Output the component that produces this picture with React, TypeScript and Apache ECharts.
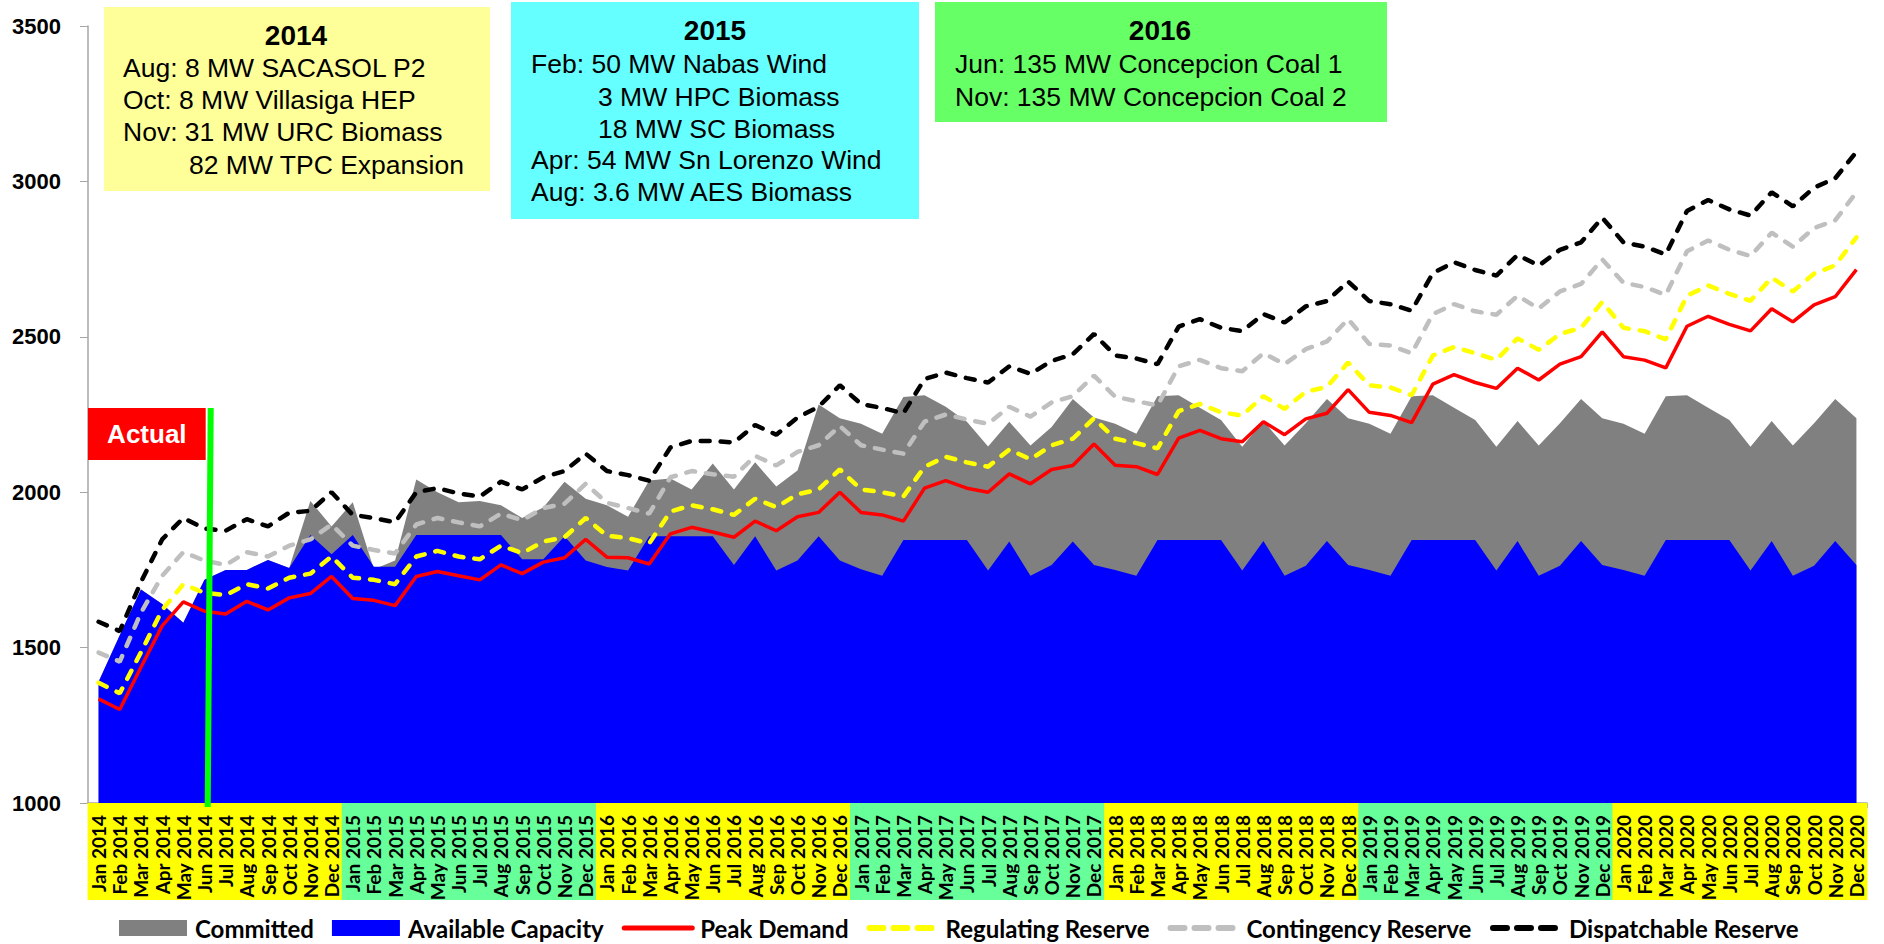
import React, { useEffect, useRef } from "react";
import * as echarts from "echarts";

const monthNames = ["Jan", "Feb", "Mar", "Apr", "May", "Jun", "Jul", "Aug", "Sep", "Oct", "Nov", "Dec"];
const years = [2014, 2015, 2016, 2017, 2018, 2019, 2020];
const categories = years.flatMap((y) => monthNames.map((m) => `${m} ${y}`));

const yearBandColors: Record<string, string> = {
  "2014": "#FFFF00",
  "2015": "#66FF99",
  "2016": "#FFFF00",
  "2017": "#66FF99",
  "2018": "#FFFF00",
  "2019": "#66FF99",
  "2020": "#FFFF00",
};

const availableCapacity = [
  1390, 1540, 1687, 1640, 1580, 1718, 1750, 1750, 1782, 1756, 1862, 1800,
  1862, 1760, 1760, 1862, 1862, 1862, 1862, 1862, 1784, 1784, 1858, 1780,
  1759, 1748, 1858, 1858, 1858, 1858, 1766, 1858, 1748, 1780, 1858, 1780,
  1752, 1731, 1846, 1846, 1846, 1846, 1748, 1841, 1731, 1766, 1841, 1766,
  1750, 1731, 1846, 1846, 1846, 1846, 1748, 1843, 1731, 1763, 1843, 1766,
  1750, 1731, 1846, 1846, 1846, 1846, 1748, 1843, 1731, 1763, 1843, 1766,
  1750, 1731, 1846, 1846, 1846, 1846, 1748, 1843, 1731, 1763, 1843, 1766,
];

const committedTotal = [
  1390, 1540, 1687, 1640, 1580, 1718, 1750, 1750, 1782, 1756, 1972, 1890,
  1968, 1752, 1780, 2041, 2000, 1968, 1972, 1958, 1917, 1951, 2034, 1979,
  1958, 1921, 2038, 2044, 2009, 2092, 2009, 2096, 2018, 2070, 2282, 2238,
  2220, 2188, 2306, 2312, 2275, 2227, 2147, 2227, 2150, 2210, 2300, 2240,
  2220, 2188, 2309, 2312, 2272, 2232, 2146, 2229, 2150, 2222, 2300, 2238,
  2220, 2188, 2309, 2312, 2272, 2232, 2146, 2229, 2150, 2222, 2300, 2238,
  2220, 2188, 2309, 2312, 2272, 2232, 2146, 2229, 2150, 2222, 2300, 2238,
];

const peakDemand = [
  1335, 1301, 1437, 1570, 1647, 1617, 1608, 1649, 1621, 1660, 1674, 1729,
  1658, 1652, 1635, 1729, 1745, 1731, 1718, 1766, 1738, 1775, 1789, 1848,
  1791, 1789, 1769, 1866, 1887, 1872, 1855, 1907, 1876, 1921, 1935, 2000,
  1935, 1927, 1907, 2013, 2037, 2013, 2000, 2059, 2027, 2073, 2086, 2155,
  2087, 2082, 2057, 2174, 2199, 2172, 2162, 2227, 2185, 2236, 2254, 2330,
  2257, 2247, 2224, 2348, 2378, 2353, 2334, 2399, 2361, 2412, 2436, 2516,
  2436, 2425, 2400, 2534, 2566, 2540, 2519, 2590, 2548, 2603, 2629, 2716,
];

const regulatingReserve = [
  1387, 1353, 1485, 1621, 1704, 1676, 1669, 1704, 1690, 1725, 1738, 1793,
  1725, 1718, 1704, 1793, 1811, 1793, 1784, 1828, 1804, 1841, 1855, 1917,
  1860, 1852, 1835, 1938, 1958, 1945, 1927, 1979, 1952, 1993, 2009, 2073,
  2009, 2000, 1986, 2082, 2114, 2096, 2082, 2137, 2106, 2151, 2172, 2238,
  2172, 2158, 2141, 2261, 2284, 2257, 2247, 2309, 2268, 2323, 2339, 2417,
  2344, 2337, 2312, 2440, 2467, 2447, 2426, 2495, 2458, 2509, 2529, 2612,
  2529, 2518, 2492, 2632, 2665, 2638, 2616, 2690, 2646, 2703, 2730, 2820,
];

const contingencyReserve = [
  1484, 1455, 1612, 1731, 1807, 1780, 1766, 1807, 1793, 1828, 1848, 1896,
  1828, 1814, 1803, 1896, 1917, 1903, 1890, 1931, 1910, 1949, 1963, 2027,
  1966, 1949, 1931, 2048, 2068, 2058, 2050, 2117, 2086, 2130, 2151, 2213,
  2151, 2137, 2124, 2227, 2250, 2234, 2220, 2275, 2243, 2289, 2309, 2375,
  2307, 2293, 2279, 2405, 2426, 2399, 2389, 2447, 2412, 2460, 2485, 2557,
  2477, 2472, 2447, 2573, 2605, 2582, 2571, 2632, 2591, 2646, 2670, 2749,
  2674, 2660, 2635, 2775, 2810, 2780, 2760, 2835, 2790, 2850, 2875, 2965,
];

const dispatchableReserve = [
  1583, 1553, 1711, 1848, 1917, 1883, 1876, 1913, 1890, 1934, 1940, 2000,
  1927, 1917, 1903, 2000, 2013, 1996, 1986, 2034, 2009, 2048, 2068, 2124,
  2068, 2055, 2037, 2144, 2165, 2165, 2160, 2216, 2185, 2240, 2275, 2344,
  2284, 2271, 2254, 2364, 2385, 2367, 2353, 2405, 2381, 2422, 2444, 2509,
  2440, 2430, 2412, 2533, 2557, 2529, 2518, 2573, 2546, 2598, 2615, 2678,
  2615, 2605, 2584, 2705, 2740, 2715, 2697, 2763, 2729, 2780, 2804, 2883,
  2804, 2790, 2765, 2905, 2940, 2910, 2890, 2965, 2920, 2980, 3010, 3095,
];

const yMin = 1000;
const yMax = 3500;
const yStep = 500;

const boxFont = "'Liberation Sans', Arial, sans-serif";
const labelFont = "Lato, 'Liberation Sans', sans-serif";

const annotationBoxes = [
  {
    x: 104, y: 7, w: 386, h: 184, fill: "#FFFF99",
    title: "2014", titleX: 296, titleY: 35,
    lines: [
      { text: "Aug: 8 MW SACASOL P2", x: 123, y: 68 },
      { text: "Oct: 8 MW Villasiga HEP", x: 123, y: 100 },
      { text: "Nov: 31 MW URC Biomass", x: 123, y: 132 },
      { text: "82 MW TPC Expansion", x: 189, y: 165 },
    ],
  },
  {
    x: 511, y: 2, w: 408, h: 217, fill: "#66FFFF",
    title: "2015", titleX: 715, titleY: 30,
    lines: [
      { text: "Feb: 50 MW Nabas Wind", x: 531, y: 64 },
      { text: "3 MW HPC Biomass", x: 598, y: 97 },
      { text: "18 MW SC Biomass", x: 598, y: 129 },
      { text: "Apr: 54 MW Sn Lorenzo Wind", x: 531, y: 160 },
      { text: "Aug: 3.6 MW AES Biomass", x: 531, y: 192 },
    ],
  },
  {
    x: 935, y: 2, w: 452, h: 120, fill: "#66FF66",
    title: "2016", titleX: 1160, titleY: 30,
    lines: [
      { text: "Jun: 135 MW Concepcion Coal 1", x: 955, y: 64 },
      { text: "Nov: 135 MW Concepcion Coal 2", x: 955, y: 97 },
    ],
  },
];

function buildGraphic(chart: any) {
  const els: any[] = [];
  annotationBoxes.forEach((b) => {
    els.push({
      type: "rect",
      shape: { x: b.x, y: b.y, width: b.w, height: b.h },
      style: { fill: b.fill },
      z: 10,
    });
    els.push({
      type: "text",
      x: b.titleX,
      y: b.titleY,
      style: {
        text: b.title,
        fill: "#000",
        font: `bold 28px ${boxFont}`,
        align: "center",
        verticalAlign: "middle",
      },
      z: 11,
    });
    b.lines.forEach((l) => {
      els.push({
        type: "text",
        x: l.x,
        y: l.y,
        style: {
          text: l.text,
          fill: "#000",
          font: `26.5px ${boxFont}`,
          align: "left",
          verticalAlign: "middle",
        },
        z: 11,
      });
    });
  });

  const xJun = chart.convertToPixel({ xAxisIndex: 0 }, "Jun 2014");
  const xJul = chart.convertToPixel({ xAxisIndex: 0 }, "Jul 2014");
  const band = xJul - xJun;
  const yBottom = chart.convertToPixel({ yAxisIndex: 0 }, yMin);
  const gx = xJun + band * 0.2;

  els.push({
    type: "rect",
    shape: { x: 88, y: 408, width: gx - 3 - 88, height: 52 },
    style: { fill: "#FF0000" },
    z: 10,
  });
  els.push({
    type: "text",
    x: (88 + gx - 3) / 2,
    y: 434,
    style: {
      text: "Actual",
      fill: "#FFFFFF",
      font: `bold 26px ${boxFont}`,
      align: "center",
      verticalAlign: "middle",
    },
    z: 11,
  });
  els.push({
    type: "line",
    shape: { x1: gx + 2, y1: 408, x2: gx - 1, y2: yBottom + 4 },
    style: { stroke: "#00FF00", lineWidth: 6 },
    z: 12,
  });
  return els;
}

export default function App() {
  const ref = useRef<HTMLDivElement>(null);

  useEffect(() => {
    if (!ref.current) return;
    const chart = echarts.init(ref.current, null, { renderer: "svg" });

    const rich: any = {};
    Object.keys(yearBandColors).forEach((yr) => {
      rich["y" + yr] = {
        backgroundColor: yearBandColors[yr],
        width: 85,
        height: 22,
        lineHeight: 22,
        align: "right",
        padding: [0, 12, 0, 0],
        fontFamily: labelFont,
        fontWeight: "bold",
        fontSize: 19,
        color: "#000",
      };
    });

    const dashed = (color: string) => ({
      color,
      width: 4.5,
      type: [9, 11],
      cap: "round",
    });

    const legendDash = (name: string, color: string) => ({
      name,
      itemStyle: { opacity: 0 },
      lineStyle: { color, width: 6, type: [14, 10], cap: "round" },
    });

    const option: any = {
      animation: false,
      backgroundColor: "#FFFFFF",
      grid: { left: 88, right: 17, top: 26, bottom: 141, containLabel: false },
      legend: {
        top: 911,
        left: 114,
        itemGap: 18,
        itemWidth: 68,
        itemHeight: 16,
        textStyle: {
          fontFamily: labelFont,
          fontWeight: "bold",
          fontSize: 24,
          color: "#000",
          padding: [0, 0, 0, 3],
        },
        data: [
          { name: "Committed", icon: "rect" },
          { name: "Available Capacity", icon: "rect" },
          {
            name: "Peak Demand",
            itemStyle: { opacity: 0 },
            lineStyle: { color: "#FF0000", width: 5, type: "solid", cap: "round" },
          },
          legendDash("Regulating Reserve", "#FFFF00"),
          legendDash("Contingency Reserve", "#BFBFBF"),
          legendDash("Dispatchable Reserve", "#000000"),
        ],
      },
      xAxis: {
        type: "category",
        data: categories,
        boundaryGap: true,
        axisLine: { show: true, lineStyle: { color: "#A6A6A6", width: 1.5 } },
        axisTick: { show: true, length: 5, interval: 0, lineStyle: { color: "#A6A6A6" } },
        axisLabel: {
          interval: 0,
          rotate: 90,
          margin: 0,
          formatter: (v: string) => `{y${v.slice(-4)}|${v}}`,
          rich,
        },
        splitLine: { show: false },
      },
      yAxis: {
        type: "value",
        min: yMin,
        max: yMax,
        interval: yStep,
        axisLine: { show: true, lineStyle: { color: "#A6A6A6", width: 1.5 } },
        axisTick: { show: true, length: 8, lineStyle: { color: "#A6A6A6" } },
        splitLine: { show: false },
        axisLabel: {
          fontFamily: boxFont,
          fontWeight: "bold",
          fontSize: 22,
          color: "#000",
          margin: 27,
          formatter: (v: number) => String(v),
        },
      },
      series: [
        {
          name: "Committed",
          type: "line",
          data: committedTotal,
          symbol: "none",
          lineStyle: { width: 0, color: "#808080" },
          itemStyle: { color: "#808080" },
          areaStyle: { color: "#808080", opacity: 1, origin: "start" },
          z: 1,
        },
        {
          name: "Available Capacity",
          type: "line",
          data: availableCapacity,
          symbol: "none",
          lineStyle: { width: 0, color: "#0000FF" },
          itemStyle: { color: "#0000FF" },
          areaStyle: { color: "#0000FF", opacity: 1, origin: "start" },
          z: 2,
        },
        {
          name: "Peak Demand",
          type: "line",
          data: peakDemand,
          symbol: "none",
          lineStyle: { color: "#FF0000", width: 3.5 },
          itemStyle: { color: "#FF0000" },
          z: 3,
        },
        {
          name: "Regulating Reserve",
          type: "line",
          data: regulatingReserve,
          symbol: "none",
          lineStyle: dashed("#FFFF00"),
          itemStyle: { color: "#FFFF00" },
          z: 3,
        },
        {
          name: "Contingency Reserve",
          type: "line",
          data: contingencyReserve,
          symbol: "none",
          lineStyle: dashed("#BFBFBF"),
          itemStyle: { color: "#BFBFBF" },
          z: 3,
        },
        {
          name: "Dispatchable Reserve",
          type: "line",
          data: dispatchableReserve,
          symbol: "none",
          lineStyle: dashed("#000000"),
          itemStyle: { color: "#000000" },
          z: 3,
        },
      ],
    };

    chart.setOption(option);
    chart.setOption({ graphic: buildGraphic(chart) });

    return () => {
      chart.dispose();
    };
  }, []);

  return (
    <div
      ref={ref}
      style={{ position: "fixed", left: 0, top: 0, width: 1884, height: 944, background: "#fff" }}
    />
  );
}
